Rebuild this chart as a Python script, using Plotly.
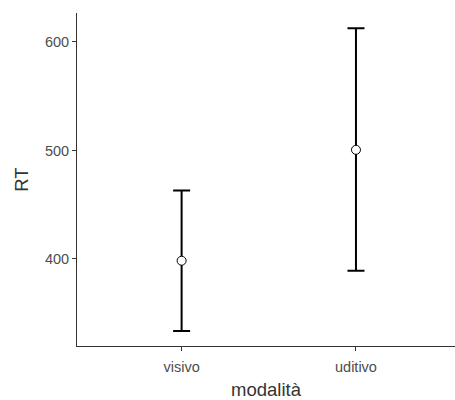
import plotly.graph_objects as go

categories = ["visivo", "uditivo"]
means = [398.4, 500.6]
upper = [463.0, 612.6]
lower = [333.6, 389.2]

err_plus = [u - m for u, m in zip(upper, means)]
err_minus = [m - l for m, l in zip(means, lower)]

fig = go.Figure()
fig.add_trace(go.Scatter(
    x=categories, y=means, mode="markers",
    marker=dict(size=9, color="white", line=dict(color="black", width=1)),
    error_y=dict(type="data", symmetric=False, array=err_plus, arrayminus=err_minus,
                 color="black", thickness=2, width=8.5),
    showlegend=False,
))

font_fam = "Liberation Sans, Arial, sans-serif"
fig.update_layout(
    width=455, height=400,
    margin=dict(l=77, r=0, t=13, b=54),
    plot_bgcolor="white", paper_bgcolor="white",
    font=dict(family=font_fam),
    xaxis=dict(
        type="category", range=[-0.6, 1.568],
        showline=True, linecolor="#333333", linewidth=1,
        ticks="outside", ticklen=4, tickcolor="#333333", tickwidth=1,
        ticklabelstandoff=4,
        showgrid=False, zeroline=False,
        tickfont=dict(size=14.5, color="#4d4d4d"),
        title=dict(text="modalità", font=dict(size=18.5, color="#333333"), standoff=12),
    ),
    yaxis=dict(
        range=[319.8, 626.7],
        tickvals=[400, 500, 600],
        showline=True, linecolor="#333333", linewidth=1,
        ticks="outside", ticklen=4, tickcolor="#333333", tickwidth=1,
        showgrid=False, zeroline=False,
        tickfont=dict(size=14.5, color="#4d4d4d"),
        title=dict(text="RT", font=dict(size=18.5, color="#333333"), standoff=11),
    ),
)

fig.write_html(
    "out.html",
    config={"displayModeBar": False},
    post_script="document.body.style.margin='0';document.body.style.overflow='hidden';",
)
